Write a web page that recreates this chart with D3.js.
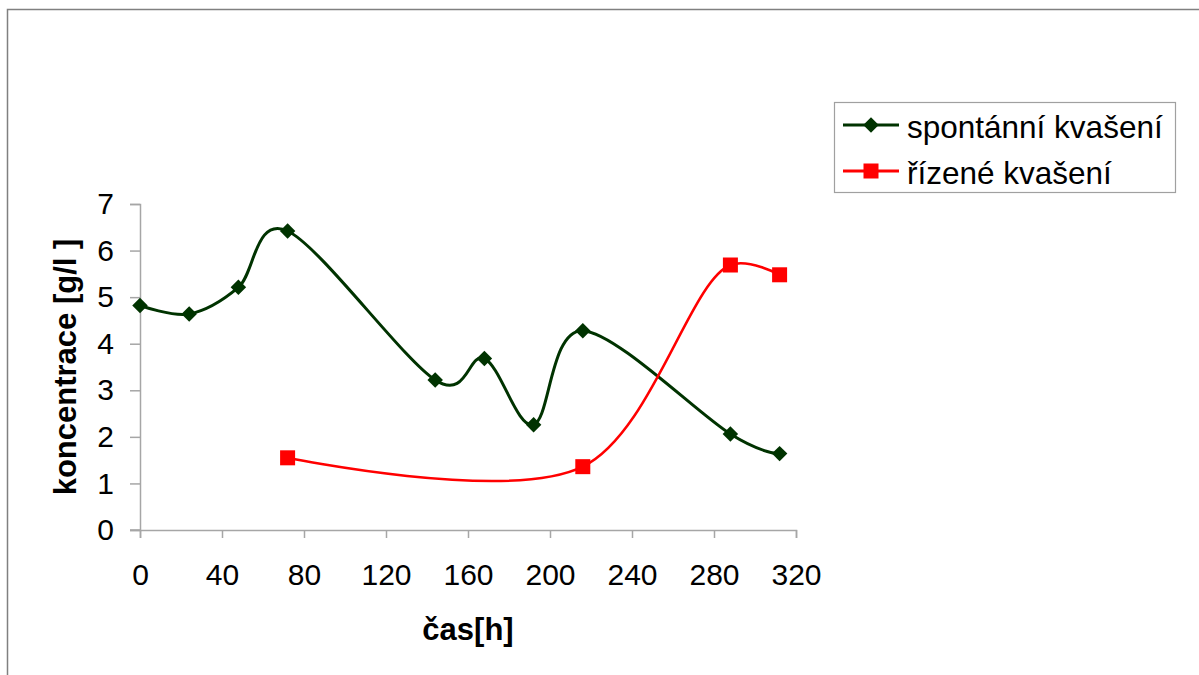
<!DOCTYPE html>
<html>
<head>
<meta charset="utf-8">
<script src="https://cdn.jsdelivr.net/npm/d3@7"></script>
<style>
  body { margin: 0; background: #fff; }
  text { font-family: "Liberation Sans", Arial, sans-serif; }
</style>
</head>
<body>
<div id="chart"></div>
<script>
// data
const hours = [0, 24, 48, 72, 144, 168, 192, 216, 288, 312];
const spontanni = [4.82, 4.64, 5.21, 6.42, 3.22, 3.68, 2.26, 4.28, 2.06, 1.64];
const rizeneHours = [72, 216, 288, 312];
const rizene = [1.55, 1.36, 5.69, 5.48];
const xTicks = [0, 40, 80, 120, 160, 200, 240, 280, 320];
const yTicks = [0, 1, 2, 3, 4, 5, 6, 7];
const seriesNames = ["spontánní kvašení", "řízené kvašení"];

const W = 1199, H = 675;
const svg = d3.select("#chart").append("svg")
    .attr("width", W)
    .attr("height", H);

// outer frame (runs off right and bottom edges)
svg.append("rect")
    .attr("x", 7.5).attr("y", 9.5)
    .attr("width", W).attr("height", H)
    .attr("fill", "none")
    .attr("stroke", "#808080")
    .attr("stroke-width", 1.5);

const x = d3.scaleLinear().domain([0, 320]).range([140, 796]);
const y = d3.scaleLinear().domain([0, 7]).range([530, 204]);

const axisColor = "#a6a6a6";

// y axis
const yAxis = svg.append("g")
    .attr("transform", "translate(140,0)")
    .call(d3.axisLeft(y).tickValues(yTicks).tickSize(10).tickPadding(16).tickFormat(d3.format("d")));
// x axis
const xAxis = svg.append("g")
    .attr("transform", "translate(0,530)")
    .call(d3.axisBottom(x).tickValues(xTicks).tickSize(8).tickPadding(26).tickFormat(d3.format("d")));

[xAxis, yAxis].forEach(g => {
    g.select(".domain").attr("stroke", axisColor).attr("stroke-width", 1.5);
    g.selectAll(".tick line").attr("stroke", axisColor).attr("stroke-width", 1.5);
    g.selectAll(".tick text")
        .attr("fill", "#000")
        .style("font-size", "30px")
        .style("font-family", "'Liberation Sans', Arial, sans-serif");
});
// extend x axis line left to meet y tick at 0
svg.append("line")
    .attr("x1", 130).attr("x2", 140)
    .attr("y1", y(0)).attr("y2", y(0))
    .attr("stroke", axisColor).attr("stroke-width", 1.5);

// axis titles
svg.append("text")
    .attr("x", 468).attr("y", 640)
    .attr("text-anchor", "middle")
    .style("font-size", "31px")
    .style("font-weight", "bold")
    .text("čas[h]");

svg.append("text")
    .attr("transform", "translate(76,367) rotate(-90)")
    .attr("text-anchor", "middle")
    .style("font-size", "31px")
    .style("font-weight", "bold")
    .text("koncentrace [g/l ]");

// smoothed lines
const lineGreen = d3.line()
    .x(d => x(d[0]))
    .y(d => y(d[1]))
    .curve(d3.curveCardinal.tension(0));

const lineRed = d3.line()
    .x(d => x(d[0]))
    .y(d => y(d[1]))
    .curve(d3.curveCatmullRom.alpha(0.5));

const greenData = hours.map((h, i) => [h, spontanni[i]]);
const redData = rizeneHours.map((h, i) => [h, rizene[i]]);

const green = "#003300", red = "#ff0000";

svg.append("path")
    .datum(greenData)
    .attr("d", lineGreen)
    .attr("fill", "none")
    .attr("stroke", green)
    .attr("stroke-width", 3);

svg.append("path")
    .datum(redData)
    .attr("d", lineRed)
    .attr("fill", "none")
    .attr("stroke", red)
    .attr("stroke-width", 2.5);

const diamond = d3.symbol().type(d3.symbolSquare).size(120);

svg.selectAll(".dia")
    .data(greenData)
    .enter()
    .append("path")
    .attr("d", diamond)
    .attr("transform", d => `translate(${x(d[0])},${y(d[1])}) rotate(45)`)
    .attr("fill", green);

svg.selectAll(".sq")
    .data(redData)
    .enter()
    .append("rect")
    .attr("x", d => x(d[0]) - 7.5)
    .attr("y", d => y(d[1]) - 7.5)
    .attr("width", 15)
    .attr("height", 15)
    .attr("fill", red);

// legend
const legend = svg.append("g");
legend.append("rect")
    .attr("x", 834.5).attr("y", 102.5)
    .attr("width", 341).attr("height", 90)
    .attr("fill", "#fff")
    .attr("stroke", "#a0a0a0")
    .attr("stroke-width", 1.2);

const rows = [
    { name: seriesNames[0], color: green, y: 125, type: "diamond" },
    { name: seriesNames[1], color: red, y: 171, type: "square" }
];
rows.forEach(r => {
    legend.append("line")
        .attr("x1", 843).attr("x2", 899)
        .attr("y1", r.y).attr("y2", r.y)
        .attr("stroke", r.color)
        .attr("stroke-width", 3);
    if (r.type === "diamond") {
        legend.append("path")
            .attr("d", diamond)
            .attr("transform", `translate(871,${r.y}) rotate(45)`)
            .attr("fill", r.color);
    } else {
        legend.append("rect")
            .attr("x", 863.5).attr("y", r.y - 7.5)
            .attr("width", 15).attr("height", 15)
            .attr("fill", r.color);
    }
    legend.append("text")
        .attr("x", 907).attr("y", r.y + 13)
        .style("font-size", "31.5px")
        .text(r.name);
});
</script>
</body>
</html>
